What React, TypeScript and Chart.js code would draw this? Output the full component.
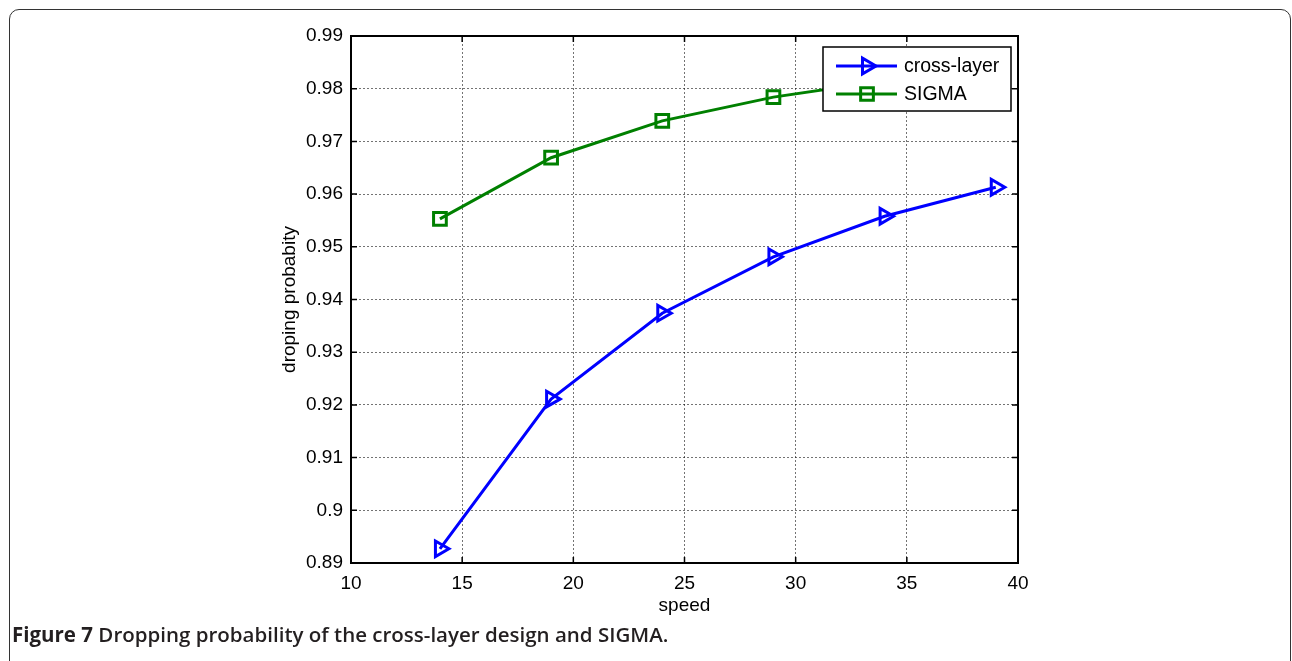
import React, { useEffect, useRef } from "react";
import { Chart, registerables } from "chart.js";

Chart.register(...registerables);

const speeds = [14, 19, 24, 29, 34, 39];
const crossLayer = [0.8927, 0.9211, 0.9374, 0.9481, 0.9558, 0.9613];
const sigma = [0.9553, 0.9669, 0.9739, 0.9784, 0.9815, 0.9838];
const seriesLabels = ["cross-layer", "SIGMA"];
const xTicks = [10, 15, 20, 25, 30, 35, 40];
const yTicks = [0.89, 0.9, 0.91, 0.92, 0.93, 0.94, 0.95, 0.96, 0.97, 0.98, 0.99];
const xTitle = "speed";
const yTitle = "droping probabity";
const caption = "Dropping probability of the cross-layer design and SIGMA.";

const FONT = "'Liberation Sans', Arial, Helvetica, sans-serif";
const BLUE = "#0000ff";
const GREEN = "#008000";

function drawMarker(ctx: CanvasRenderingContext2D, style: string, cx: number, cy: number, r: number) {
  ctx.beginPath();
  if (style === "triangle") {
    ctx.moveTo(cx + r, cy);
    ctx.lineTo(cx - r / 2, cy - (r * Math.sqrt(3)) / 2);
    ctx.lineTo(cx - r / 2, cy + (r * Math.sqrt(3)) / 2);
    ctx.closePath();
  } else {
    const s = Math.SQRT1_2 * r;
    ctx.rect(cx - s, cy - s, 2 * s, 2 * s);
  }
  ctx.stroke();
}

const framePlugin = {
  id: "matlabFrame",
  beforeDatasetsDraw(chart: any) {
    const { ctx, chartArea } = chart;
    const { left, right, top, bottom } = chartArea;
    const xs = chart.scales.x;
    const ys = chart.scales.y;
    ctx.save();
    ctx.strokeStyle = "#000";
    ctx.lineWidth = 1.5;
    ctx.beginPath();
    xTicks.forEach((t) => {
      const px = xs.getPixelForValue(t);
      ctx.moveTo(px, bottom);
      ctx.lineTo(px, bottom - 6);
      ctx.moveTo(px, top);
      ctx.lineTo(px, top + 6);
    });
    yTicks.forEach((t) => {
      const py = ys.getPixelForValue(t);
      ctx.moveTo(left, py);
      ctx.lineTo(left + 6, py);
      ctx.moveTo(right, py);
      ctx.lineTo(right - 6, py);
    });
    ctx.stroke();
    ctx.lineWidth = 2;
    ctx.strokeRect(left, top, right - left, bottom - top);
    ctx.restore();
  },
};

const legendPlugin = {
  id: "matlabLegend",
  afterDatasetsDraw(chart: any) {
    const { ctx, chartArea } = chart;
    const w = 188;
    const h = 64;
    const x = chartArea.right - 7 - w;
    const y = chartArea.top + 11;
    ctx.save();
    ctx.fillStyle = "#fff";
    ctx.fillRect(x, y, w, h);
    ctx.strokeStyle = "#000";
    ctx.lineWidth = 1.5;
    ctx.strokeRect(x, y, w, h);
    chart.data.datasets.forEach((ds: any, i: number) => {
      const ry = y + 19 + i * 28;
      ctx.strokeStyle = ds.borderColor;
      ctx.lineWidth = ds.borderWidth;
      ctx.beginPath();
      ctx.moveTo(x + 13, ry);
      ctx.lineTo(x + 74, ry);
      ctx.stroke();
      drawMarker(ctx, ds.pointStyle === "triangle" ? "triangle" : "rect", x + 44, ry, ds.pointRadius);
      ctx.fillStyle = "#000";
      ctx.font = `19.5px ${FONT}`;
      ctx.textAlign = "left";
      ctx.textBaseline = "middle";
      ctx.fillText(ds.label, x + 81, ry + 1);
    });
    ctx.restore();
  },
};

export default function App() {
  const canvasRef = useRef<HTMLCanvasElement | null>(null);

  useEffect(() => {
    if (!canvasRef.current) return;
    const tickFont = { family: FONT, size: 19 };
    const chart = new Chart(canvasRef.current, {
      type: "line",
      data: {
        datasets: [
          {
            label: seriesLabels[0],
            data: speeds.map((s, i) => ({ x: s, y: crossLayer[i] })),
            borderColor: BLUE,
            borderWidth: 3,
            pointStyle: "triangle",
            rotation: 90,
            pointRadius: 9,
            pointBorderWidth: 3,
            pointBorderColor: BLUE,
            pointBackgroundColor: "rgba(0,0,0,0)",
            tension: 0,
          } as any,
          {
            label: seriesLabels[1],
            data: speeds.map((s, i) => ({ x: s, y: sigma[i] })),
            borderColor: GREEN,
            borderWidth: 3,
            pointStyle: "rect",
            pointRadius: 9,
            pointBorderWidth: 3,
            pointBorderColor: GREEN,
            pointBackgroundColor: "rgba(0,0,0,0)",
            tension: 0,
          } as any,
        ],
      },
      options: {
        animation: false,
        responsive: false,
        maintainAspectRatio: false,
        devicePixelRatio: 1,
        layout: { padding: { left: 278, right: 274, top: 36, bottom: 13 } },
        plugins: {
          legend: { display: false },
          tooltip: { enabled: false },
          title: { display: false },
        },
        scales: {
          x: {
            type: "linear",
            min: 10,
            max: 40,
            afterFit: (s: any) => {
              s.height = 54;
            },
            afterBuildTicks: (s: any) => {
              s.ticks = xTicks.map((v) => ({ value: v }));
            },
            ticks: {
              font: tickFont,
              color: "#000",
              padding: 9,
              maxRotation: 0,
              autoSkip: false,
              callback: (v: any) => String(v),
            },
            grid: { color: "rgba(0,0,0,0.55)", lineWidth: 1, drawTicks: false },
            border: { display: false, dash: [2, 2] },
            title: {
              display: true,
              text: xTitle,
              font: tickFont,
              color: "#000",
              padding: { top: 0, bottom: 0 },
            },
          },
          y: {
            type: "linear",
            min: 0.89,
            max: 0.99,
            afterFit: (s: any) => {
              s.width = 73;
            },
            afterBuildTicks: (s: any) => {
              s.ticks = yTicks.map((v) => ({ value: v }));
            },
            ticks: {
              font: tickFont,
              color: "#000",
              padding: 8,
              autoSkip: false,
              callback: (v: any) => String(Number(Number(v).toFixed(2))),
            },
            grid: { color: "rgba(0,0,0,0.55)", lineWidth: 1, drawTicks: false },
            border: { display: false, dash: [2, 2] },
            title: {
              display: true,
              text: yTitle,
              font: tickFont,
              color: "#000",
              padding: { top: 0, bottom: 0 },
            },
          },
        },
      },
      plugins: [framePlugin, legendPlugin],
    });
    return () => chart.destroy();
  }, []);

  return (
    <div
      style={{
        position: "absolute",
        left: 0,
        top: 0,
        width: 1292,
        height: 661,
        overflow: "hidden",
        background: "#fff",
      }}
    >
      <div
        style={{
          position: "absolute",
          left: 9,
          top: 9,
          width: 1280,
          height: 720,
          border: "1.5px solid #333",
          borderRadius: 10,
        }}
      />
      <canvas
        ref={canvasRef}
        width={1292}
        height={630}
        style={{ position: "absolute", left: 0, top: 0, width: 1292, height: 630 }}
      />
      <div
        style={{
          position: "absolute",
          left: 12,
          top: 621,
          fontFamily: "'Open Sans', 'Noto Sans', sans-serif",
          fontSize: 20.5,
          fontWeight: 600,
          color: "#231f20",
          whiteSpace: "nowrap",
          lineHeight: "26px",
        }}
      >
        <span style={{ fontWeight: 700 }}>Figure 7</span> {caption}
      </div>
    </div>
  );
}
